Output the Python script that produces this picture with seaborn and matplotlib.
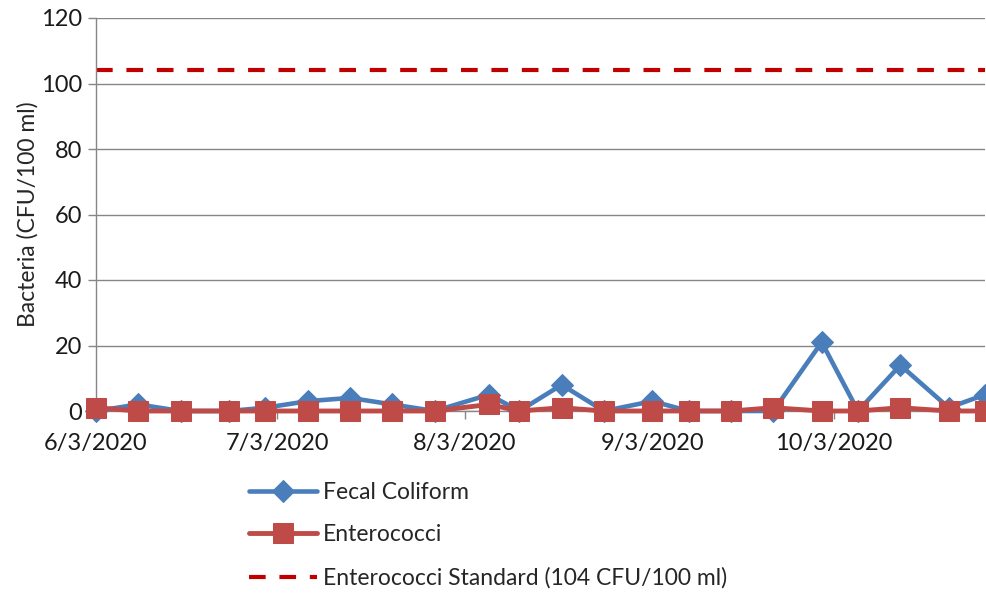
import matplotlib
matplotlib.use("Agg")
import matplotlib.pyplot as plt
import matplotlib.dates as mdates
import seaborn as sns
import pandas as pd

dates = ["2020-06-03", "2020-06-10", "2020-06-17", "2020-06-25", "2020-07-01",
         "2020-07-08", "2020-07-15", "2020-07-22", "2020-07-29", "2020-08-07",
         "2020-08-12", "2020-08-19", "2020-08-26", "2020-09-03", "2020-09-09",
         "2020-09-16", "2020-09-23", "2020-10-01", "2020-10-07", "2020-10-14",
         "2020-10-22", "2020-10-28"]
fecal_coliform = [0, 2, 0, 0, 1, 3, 4, 2, 0, 5, 0, 8, 0, 3, 0, 0, 0, 21, 0, 14, 1, 5]
enterococci = [1, 0, 0, 0, 0, 0, 0, 0, 0, 2, 0, 1, 0, 0, 0, 0, 1, 0, 0, 1, 0, 0]
standard_value = 104
tick_dates = ["2020-06-03", "2020-07-03", "2020-08-03", "2020-09-03", "2020-10-03"]
tick_labels = ["6/3/2020", "7/3/2020", "8/3/2020", "9/3/2020", "10/3/2020"]

df = pd.DataFrame({"date": pd.to_datetime(dates),
                   "Fecal Coliform": fecal_coliform,
                   "Enterococci": enterococci})

sns.set_theme(style="white")
plt.rcParams["font.family"] = ["Lato", "DejaVu Sans"]

fig = plt.figure(figsize=(9.87, 5.94), dpi=100)
ax = fig.add_axes([96/987, 1 - 411/594, (985-96)/987, (411-18)/594])

blue = "#4A7EBB"
red = "#BE4B48"
sns.lineplot(data=df, x="date", y="Fecal Coliform", ax=ax, color=blue, lw=3.3,
             marker="D", markersize=11, markeredgecolor=blue, label="Fecal Coliform",
             clip_on=False, zorder=3)
sns.lineplot(data=df, x="date", y="Enterococci", ax=ax, color=red, lw=3.5,
             marker="s", markersize=14, markeredgecolor=red, label="Enterococci",
             clip_on=False, zorder=4)
ax.axhline(standard_value, color="#C00000", lw=3, ls=(0, (4, 3.3)),
           label="Enterococci Standard (104 CFU/100 ml)")

ax.set_xlim(pd.Timestamp(dates[0]), pd.Timestamp(dates[-1]))
ax.set_ylim(0, 120)
ax.set_yticks(range(0, 121, 20))
ax.set_xticks(pd.to_datetime(tick_dates))
ax.set_xticklabels(tick_labels)
ax.set_xlabel("")
ax.set_ylabel("Bacteria (CFU/100 ml)", fontsize=16.5, labelpad=2)
ax.tick_params(axis="both", labelsize=17, length=6, width=1, color="#868686",
               direction="out", bottom=True, left=True)
ax.tick_params(axis="x", pad=10)
ax.tick_params(axis="y", pad=4)
ax.yaxis.grid(True, color="#868686", lw=1)
ax.set_axisbelow(True)
for s in ["top", "right"]:
    ax.spines[s].set_visible(False)
for s in ["left", "bottom"]:
    ax.spines[s].set_color("#868686")
    ax.spines[s].set_linewidth(1)
for lab in ax.get_xticklabels() + ax.get_yticklabels():
    lab.set_color("#1a1a1a")

leg = ax.legend(loc="upper left", bbox_to_anchor=(228/987, 1 - 461/594),
                bbox_transform=fig.transFigure, frameon=False, fontsize=16.5,
                handlelength=3.0, labelspacing=0.95, handletextpad=0.25)
fig.savefig("out.png", dpi=100)
